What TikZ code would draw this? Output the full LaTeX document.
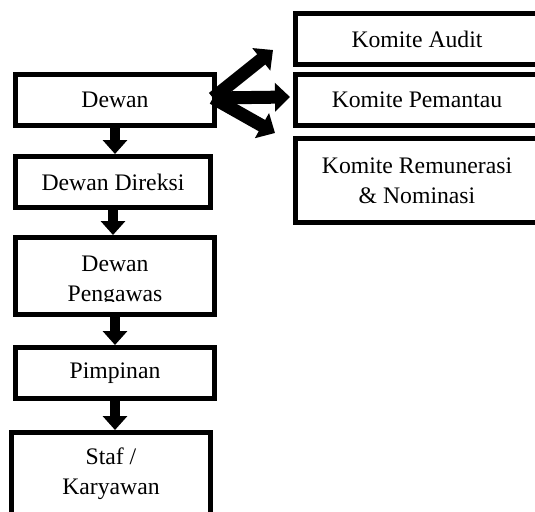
\documentclass[tikz,border=0pt]{standalone}
\usepackage{fontspec}
\setmainfont{Liberation Serif}
\usetikzlibrary{arrows.meta}
\begin{document}
\begin{tikzpicture}[x=1pt,y=-1pt,
  box/.style={draw=black,line width=5pt,inner sep=0pt,align=center,
    font=\fontsize{23.7}{30}\selectfont},
  txt/.style={inner sep=0pt,align=center,font=\fontsize{23.7}{30}\selectfont},
  darrow/.style={line width=10pt,-{Triangle[width=24pt,length=14pt]}},
  rarrow/.style={line width=13pt,-{Triangle[width=28pt,length=15pt]}},
]
\useasboundingbox (0,0) rectangle (535,511);
\clip (0,0) rectangle (535,511);
\fill[white] (0,0) rectangle (535,511);

% left column
\node[box,minimum width=199pt,minimum height=51pt] (dewan) at (115,100) {Dewan};
\node[box,minimum width=195pt,minimum height=51pt] (direksi) at (113,182) {Dewan Direksi};
\node[box,minimum width=199pt,minimum height=77pt] (pengawas) at (115,276) {};
\begin{scope}
  \clip (13,235) rectangle (217,301);
  \node[txt] (pengawastext) at (115,281) {Dewan\\Pengawas};
\end{scope}
\node[box,minimum width=199pt,minimum height=51pt] (pimpinan) at (115,373) {Pimpinan};
\node[box,minimum width=199pt,minimum height=83pt] (staf) at (111,474) {Staf /\\Karyawan};

% right column
\node[box,minimum width=243pt,minimum height=51pt] (audit) at (417,39) {Komite Audit};
\node[box,minimum width=243pt,minimum height=51pt] (pemantau) at (417,100) {Komite Pemantau};
\node[box,minimum width=243pt,minimum height=84pt] (remun) at (417,180.5) {Komite Remunerasi\\\& Nominasi};

% down arrows
\draw[darrow] (dewan.south) -- (dewan.south |- direksi.north);
\draw[darrow] (direksi.south) -- (direksi.south |- pengawas.north);
\draw[darrow] (pengawas.south) -- (pengawas.south |- pimpinan.north);
\draw[darrow] (pimpinan.south) -- (pimpinan.south |- staf.north);

% arrows from Dewan
\coordinate (origin) at ([xshift=-4pt,yshift=2pt]dewan.east);
\coordinate (tipA) at (273,50);
\coordinate (tipR) at (275,133);
\draw[rarrow] (origin) -- (tipA);
\draw[rarrow] (origin) -- ([xshift=-3pt,yshift=3pt]pemantau.west);
\draw[rarrow] (origin) -- (tipR);
\end{tikzpicture}
\end{document}
